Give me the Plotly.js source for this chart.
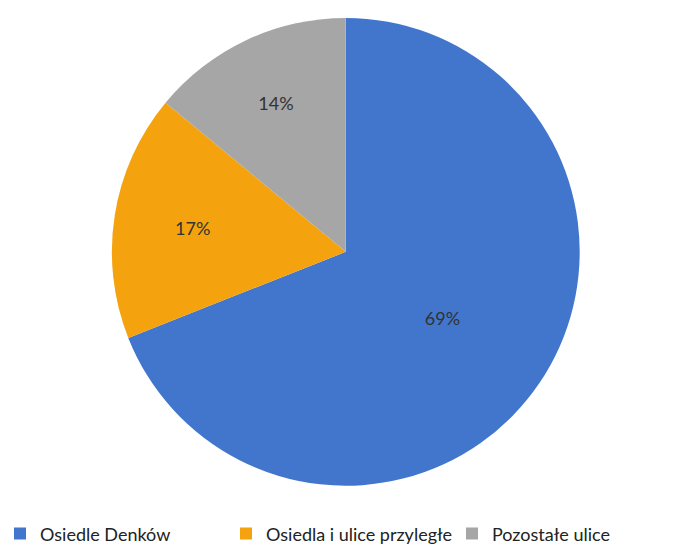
<!DOCTYPE html>
<html>
<head>
<meta charset="utf-8">
<script src="https://cdn.plot.ly/plotly-3.0.1.min.js"></script>
<style>html,body{margin:0;padding:0;background:#fff;}#chart{width:678px;height:551px;}</style>
</head>
<body>
<div id="chart"></div>
<script>
const labels = ["Osiedle Denków", "Osiedla i ulice przyległe", "Pozostałe ulice"];
const values = [69, 17, 14];
const colors = ["#4176cc", "#f4a30e", "#a6a6a6"];

const trace = {
  type: "pie",
  labels: labels,
  values: values,
  sort: false,
  direction: "clockwise",
  rotation: 0,
  marker: {colors: colors, line: {width: 0}},
  textinfo: "percent",
  texttemplate: "%{percent:.0%}",
  textposition: "inside",
  insidetextorientation: "horizontal",
  textfont: {family: "Lato, 'Open Sans', sans-serif", size: 18, color: "#333333"},
  hoverinfo: "skip",
  domain: {x: [0.165, 0.855], y: [0.118, 0.968]}
};

const layout = {
  width: 678,
  height: 551,
  margin: {l: 0, r: 0, t: 0, b: 0, autoexpand: false},
  paper_bgcolor: "#ffffff",
  showlegend: true,
  legend: {
    orientation: "h",
    x: 0,
    xanchor: "left",
    y: 0.031,
    yanchor: "middle",
    entrywidth: 181,
    entrywidthmode: "pixels",
    itemwidth: 30,
    font: {family: "Lato, 'Open Sans', sans-serif", size: 18, color: "#222222"}
  }
};

Plotly.newPlot("chart", [trace], layout, {displayModeBar: false, staticPlot: true});
</script>
</body>
</html>
